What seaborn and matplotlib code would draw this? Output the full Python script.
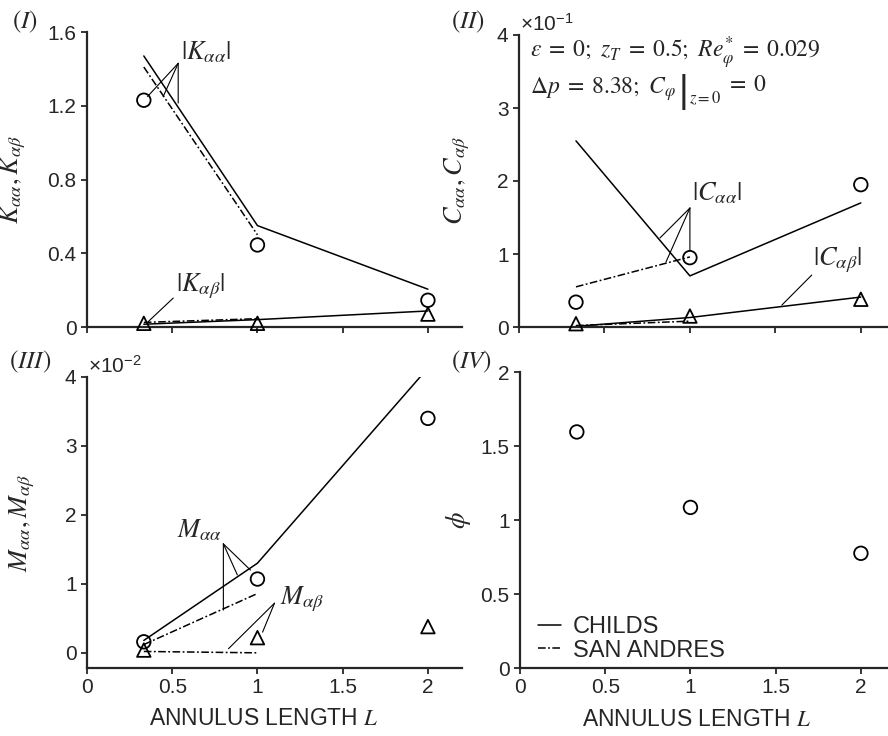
import matplotlib
matplotlib.use("Agg")
import matplotlib.pyplot as plt
from matplotlib.lines import Line2D
from matplotlib.ticker import FuncFormatter, MultipleLocator
import seaborn as sns

# annulus lengths (experiments / Childs model) and San Andres model range
L = [1 / 3, 1.0, 2.0]
L_sa = [1 / 3, 1.0]

# (I) stiffness coefficients
k_aa_exp = [1.23, 0.445, 0.145]
k_ab_exp = [0.02, 0.02, 0.07]
k_aa_childs = [1.47, 0.55, 0.205]
k_ab_childs = [0.015, 0.04, 0.087]
k_aa_sa = [1.41, 0.50]
k_ab_sa = [0.025, 0.045]

# (II) damping coefficients
c_aa_exp = [0.034, 0.095, 0.195]
c_ab_exp = [0.0045, 0.015, 0.038]
c_aa_childs = [0.255, 0.070, 0.170]
c_ab_childs = [0.001, 0.013, 0.041]
c_aa_sa = [0.055, 0.096]
c_ab_sa = [0.002, 0.008]

# (III) added-mass coefficients
m_aa_exp = [0.0016, 0.0107, 0.034]
m_ab_exp = [0.0004, 0.0022, 0.0038]
m_aa_childs = [0.0018, 0.013, 0.0413]
m_aa_sa = [0.0012, 0.0086]
m_ab_sa = [0.0002, 0.0]

# (IV) phase angle
phi_exp = [1.595, 1.085, 0.775]

x_ticks = [0, 0.5, 1, 1.5, 2]

sns.set_theme(style="ticks")
plt.rcParams.update({
    "font.family": ["Liberation Sans", "DejaVu Sans"],
    "mathtext.fontset": "stix",
    "axes.edgecolor": "#262626",
    "axes.linewidth": 1.6,
    "xtick.color": "#262626",
    "ytick.color": "#262626",
    "xtick.labelcolor": "#262626",
    "ytick.labelcolor": "#262626",
    "xtick.major.size": 4,
    "ytick.major.size": 4,
    "xtick.major.width": 1.3,
    "ytick.major.width": 1.3,
    "xtick.labelsize": 15,
    "ytick.labelsize": 15,
    "xtick.direction": "out",
    "ytick.direction": "out",
})

SOLID = "-"
DASHDOT = (0, (5, 1.6, 1.2, 1.6))
LW = 1.1
MATH_FS = 19


def model_line(ax, x, y, ls):
    sns.lineplot(x=x, y=y, ax=ax, color="black", linewidth=LW,
                 linestyle=ls, errorbar=None, sort=False, zorder=2)


def exp_points(ax, x, y, marker):
    sns.scatterplot(x=x, y=y, ax=ax, marker=marker, s=95,
                    facecolor="none", edgecolor="black", linewidth=1.3,
                    zorder=3, clip_on=False)


def leader(ax, start, end):
    ax.annotate("", xy=end, xytext=start,
                arrowprops=dict(arrowstyle="-", lw=0.8, color="black",
                                shrinkA=0, shrinkB=0))


fig = plt.figure(figsize=(8.88, 7.36), dpi=100)
W, H = 888.0, 736.0


def axes_px(left, top, right, bottom):
    return fig.add_axes([left / W, 1 - bottom / H, (right - left) / W, (bottom - top) / H])


ax1 = axes_px(87, 32, 462, 327)
ax2 = axes_px(519, 35, 895, 327)
ax3 = axes_px(87, 377, 462, 668)
ax4 = axes_px(520, 372, 895, 668)

gfmt = FuncFormatter(lambda v, p: f"{v:g}")

# (I)
model_line(ax1, L, k_aa_childs, SOLID)
model_line(ax1, L, k_ab_childs, SOLID)
model_line(ax1, L_sa, k_aa_sa, DASHDOT)
model_line(ax1, L_sa, k_ab_sa, DASHDOT)
exp_points(ax1, L, k_aa_exp, "o")
exp_points(ax1, L, k_ab_exp, "^")
ax1.set_ylim(0, 1.6)
ax1.yaxis.set_major_locator(MultipleLocator(0.4))
ax1.yaxis.set_major_formatter(gfmt)
ax1.set_ylabel(r"$K_{\alpha\alpha}, K_{\alpha\beta}$", fontsize=MATH_FS)
ax1.text(0.55, 1.49, r"$|K_{\alpha\alpha}|$", fontsize=MATH_FS, ha="left", va="center")
leader(ax1, (0.535, 1.43), (0.355, 1.25))
leader(ax1, (0.535, 1.43), (0.447, 1.25))
leader(ax1, (0.535, 1.43), (0.535, 1.215))
ax1.text(0.52, 0.22, r"$|K_{\alpha\beta}|$", fontsize=MATH_FS, ha="left", va="center")
leader(ax1, (0.506, 0.157), (0.36, 0.03))

# (II)
model_line(ax2, L, c_aa_childs, SOLID)
model_line(ax2, L, c_ab_childs, SOLID)
model_line(ax2, L_sa, c_aa_sa, DASHDOT)
model_line(ax2, L_sa, c_ab_sa, DASHDOT)
exp_points(ax2, L, c_aa_exp, "o")
exp_points(ax2, L, c_ab_exp, "^")
ax2.set_ylim(0, 0.4)
ax2.yaxis.set_major_locator(MultipleLocator(0.1))
ax2.yaxis.set_major_formatter(FuncFormatter(lambda v, p: f"{v * 10:g}"))
ax2.set_ylabel(r"$C_{\alpha\alpha}, C_{\alpha\beta}$", fontsize=MATH_FS)
ax2.text(0.003, 1.0, r"$\mathregular{\times10^{-1}}$", transform=ax2.transAxes,
         fontsize=15, ha="left", va="bottom", color="#262626")
ax2.text(1.01, 0.1835, r"$|C_{\alpha\alpha}|$", fontsize=MATH_FS, ha="left", va="center")
leader(ax2, (1.0, 0.163), (0.825, 0.122))
leader(ax2, (1.0, 0.163), (0.86, 0.089))
leader(ax2, (1.0, 0.163), (1.0, 0.1055))
ax2.text(1.72, 0.092, r"$|C_{\alpha\beta}|$", fontsize=MATH_FS, ha="left", va="center")
leader(ax2, (1.713, 0.0712), (1.538, 0.030))

EQ_FS = 17
ax2.text(0.03, 0.922, r"$\varepsilon\;=\;0;\ z_T\;=\;0.5;\ Re^{*}_{\varphi}\;=\;0.029$",
         transform=ax2.transAxes, fontsize=EQ_FS, ha="left", va="baseline")
eq_a = ax2.text(0.03, 0.80, r"$\Delta p\;=\;8.38;\ C_{\varphi}$",
                transform=ax2.transAxes, fontsize=EQ_FS, ha="left", va="baseline")
eq_bar = ax2.annotate("|", xy=(1, 0), xycoords=eq_a, xytext=(2, -5),
                      textcoords="offset points", fontsize=27, ha="left", va="bottom",
                      family="Liberation Sans")
eq_sub = ax2.annotate(r"$z=0$", xy=(1, 0), xycoords=eq_bar, xytext=(0, 2),
                      textcoords="offset points", fontsize=12, ha="left", va="bottom")
ax2.annotate(r"$\;=\;0$", xy=(1, 0), xycoords=(eq_sub, eq_a), xytext=(0, 4.5),
             textcoords="offset points", fontsize=EQ_FS, ha="left", va="bottom")

# (III)
model_line(ax3, L, m_aa_childs, SOLID)
model_line(ax3, L_sa, m_aa_sa, DASHDOT)
model_line(ax3, L_sa, m_ab_sa, DASHDOT)
exp_points(ax3, L, m_aa_exp, "o")
exp_points(ax3, L, m_ab_exp, "^")
ax3.set_ylim(-0.0022, 0.04)
ax3.yaxis.set_major_locator(MultipleLocator(0.01))
ax3.yaxis.set_major_formatter(FuncFormatter(lambda v, p: f"{v * 100:g}"))
ax3.set_ylabel(r"$M_{\alpha\alpha}, M_{\alpha\beta}$", fontsize=MATH_FS)
ax3.text(0.003, 1.0, r"$\mathregular{\times10^{-2}}$", transform=ax3.transAxes,
         fontsize=15, ha="left", va="bottom", color="#262626")
ax3.text(0.53, 0.0178, r"$M_{\alpha\alpha}$", fontsize=MATH_FS, ha="left", va="center")
leader(ax3, (0.80, 0.0158), (0.882, 0.0113))
leader(ax3, (0.80, 0.0158), (0.959, 0.0120))
leader(ax3, (0.80, 0.0158), (0.80, 0.0062))
ax3.text(1.135, 0.0077, r"$M_{\alpha\beta}$", fontsize=MATH_FS, ha="left", va="center")
leader(ax3, (1.10, 0.0072), (0.83, 0.0006))
leader(ax3, (1.10, 0.0072), (1.03, 0.0030))

# (IV)
exp_points(ax4, L, phi_exp, "o")
ax4.set_ylim(0, 2)
ax4.yaxis.set_major_locator(MultipleLocator(0.5))
ax4.yaxis.set_major_formatter(gfmt)
ax4.set_ylabel(r"$\phi$", fontsize=MATH_FS)
handles = [Line2D([], [], color="black", lw=LW, ls=SOLID),
           Line2D([], [], color="black", lw=LW, ls=DASHDOT)]
ax4.legend(handles, ["CHILDS", "SAN ANDRES"], loc="lower left",
           bbox_to_anchor=(0.022, -0.01), frameon=False, fontsize=17,
           handlelength=1.0, handletextpad=0.5, labelspacing=0.05,
           borderpad=0.2, borderaxespad=0.2)

for ax, lab_x in ((ax1, -0.157), (ax2, -0.125), (ax3, -0.133), (ax4, -0.125)):
    ax.set_xlim(0, 2.2)
    ax.set_xticks(x_ticks)
    ax.xaxis.set_major_formatter(gfmt)
    sns.despine(ax=ax)
    ax.yaxis.set_label_coords(lab_x, 0.5)

for ax in (ax1, ax2):
    ax.tick_params(axis="x", labelbottom=False)
    ax.set_xlabel("")

for ax in (ax3, ax4):
    ax.set_xlabel(r"ANNULUS LENGTH $L$", fontsize=16.5)
    ax.xaxis.set_label_coords(0.472, -0.135)

# panel tags
for txt, px, py in (("(I)", 12, 22), ("(II)", 451, 22), ("(III)", 9, 362), ("(IV)", 451, 362)):
    fig.text(px / W, 1 - py / H, rf"$\mathit{{{txt}}}$", fontsize=18, ha="left", va="center")

fig.savefig("out.png", dpi=100)
